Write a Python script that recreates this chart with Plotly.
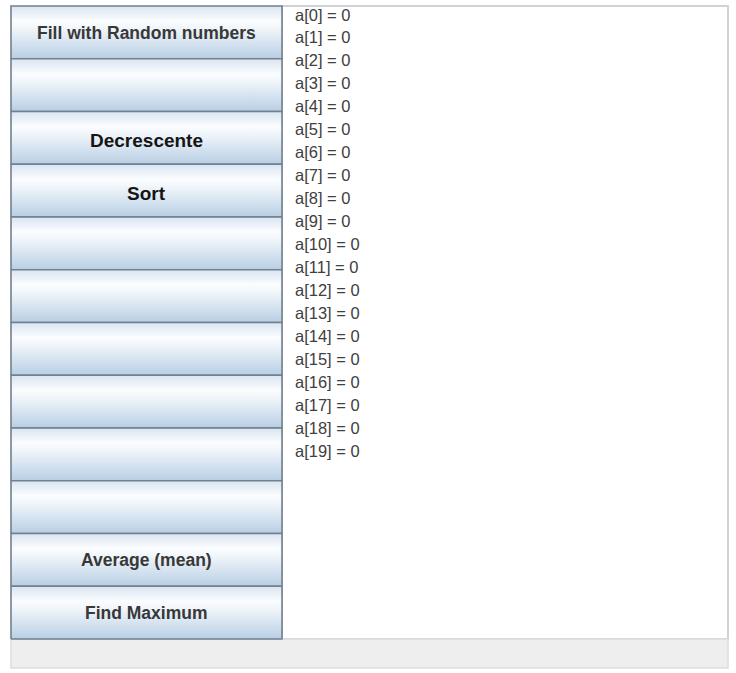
import plotly.graph_objects as go

# ---- data ----
button_labels = ["Fill with Random numbers", "", "Decrescente", "Sort", "", "", "",
                 "", "", "", "Average (mean)", "Find Maximum"]
array_index = [0, 1, 2, 3, 4, 5, 6, 7, 8, 9, 10, 11, 12, 13, 14, 15, 16, 17, 18, 19]
array_values = [0, 0, 0, 0, 0, 0, 0, 0, 0, 0, 0, 0, 0, 0, 0, 0, 0, 0, 0, 0]

W, H = 736, 673
BX0, BX1 = 11, 282
BY0, BY1 = 6, 639
LIST_X1 = 728
STATUS_Y1 = 668
n = len(button_labels)
bh = (BY1 - BY0) / n


def Y(py):
    return H - py


fig = go.Figure()

# list panel background
fig.add_shape(type="rect", x0=BX1, x1=LIST_X1, y0=Y(BY1), y1=Y(BY0),
              fillcolor="#ffffff", line=dict(color="#cfd3d7", width=2), layer="below")
# status bar
fig.add_shape(type="rect", x0=BX0, x1=LIST_X1, y0=Y(STATUS_Y1), y1=Y(BY1),
              fillcolor="#eeeeee", line=dict(color="#d9dde2", width=1.5), layer="below")

# buttons with vertical gradient (0 = bottom, 1 = top)
grad = [[0.0, "#b8cee2"], [0.12, "#c4d7e9"], [0.6, "#f3f7fb"], [0.72, "#fbfdff"],
        [0.85, "#ebf1f8"], [1.0, "#d9e5f1"]]
for i, lab in enumerate(button_labels):
    top = BY0 + i * bh
    bot = top + bh
    fig.add_trace(go.Scatter(
        x=[BX0, BX1, BX1, BX0, BX0], y=[Y(bot), Y(bot), Y(top), Y(top), Y(bot)],
        mode="lines", fill="toself", line=dict(color="#72808f", width=1.6),
        fillgradient=dict(type="vertical", colorscale=grad),
        hoverinfo="skip", showlegend=False))
    if lab:
        big = lab in ("Decrescente", "Sort")
        fig.add_annotation(
            x=(BX0 + BX1) / 2, y=Y(top + bh / 2 + (2.5 if big else 0.5)),
            text="<b>%s</b>" % lab,
            showarrow=False, xanchor="center", yanchor="middle",
            font=dict(family="Liberation Sans, Arial, sans-serif",
                      size=19 if big else 17.5, color="#151515" if big else "#383838"))

# array contents
LX = 293
L0 = 14.5
LS = 22.95
for idx, val in zip(array_index, array_values):
    fig.add_annotation(
        x=LX, y=Y(L0 + idx * LS), text="a[%d] = %d" % (idx, val),
        showarrow=False, xanchor="left", yanchor="middle",
        font=dict(family="Liberation Sans Narrow, Arial Narrow, Liberation Sans, sans-serif",
                  size=16.5, color="#404040"))

fig.update_layout(
    width=W, height=H, margin=dict(l=0, r=0, t=0, b=0),
    paper_bgcolor="#ffffff", plot_bgcolor="#ffffff",
    xaxis=dict(range=[0, W], visible=False, fixedrange=True),
    yaxis=dict(range=[0, H], visible=False, fixedrange=True),
    showlegend=False)

fig.write_html("out.html", config={"displayModeBar": False},
               post_script="document.body.style.margin='0';")
